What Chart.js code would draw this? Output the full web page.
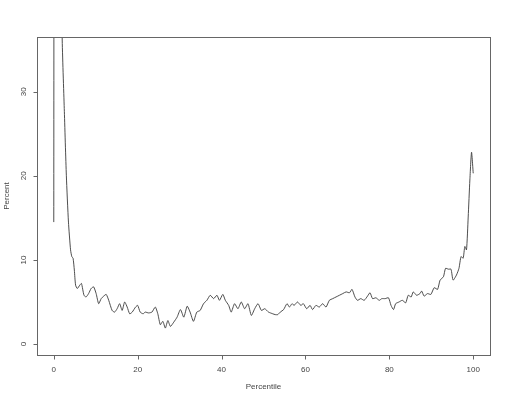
<!DOCTYPE html>
<html><head><meta charset="utf-8">
<script src="https://cdn.jsdelivr.net/npm/chart.js@4/dist/chart.umd.min.js"></script>
<style>html,body{margin:0;padding:0;background:#fff;}#c{display:block;}</style>
</head><body>
<canvas id="c" width="509" height="402"></canvas>
<script>
// Percentile positions (x) and Percent values (y)
const percentiles = [0,0.5,1.0,1.5,2.0,2.5,3.0,3.5,4.0,4.3,4.6,4.9,5.2,5.6,6.2,6.6,7.2,7.7,8.3,8.9,9.5,10.1,10.7,11.3,11.9,12.5,13.1,13.9,14.5,15.1,15.7,16.3,16.9,17.5,18.1,18.7,19.5,20.0,20.6,21.3,21.8,22.6,23.4,24.2,24.8,25.4,26.0,26.6,27.2,27.8,28.6,29.4,30.2,31.0,31.8,32.5,33.3,34.1,34.9,35.7,36.5,37.3,38.1,38.9,39.5,40.3,40.9,41.7,42.3,43.1,43.9,44.7,45.5,46.3,47.1,47.9,48.7,49.5,50.3,51.2,52.2,52.8,53.4,54.0,54.8,55.6,56.2,56.8,57.3,58.1,58.9,59.5,60.3,61.1,61.7,62.5,63.3,64.1,64.9,65.7,66.5,67.3,68.1,68.9,69.7,70.5,71.1,71.8,72.4,73.2,74.0,74.8,75.4,76.0,76.8,77.6,78.2,79.0,79.8,80.4,81.0,81.5,82.3,83.1,83.9,84.5,85.2,85.7,86.5,87.3,87.7,88.3,89.1,89.9,90.7,91.5,92.1,92.9,93.4,94.1,94.7,95.2,96.0,96.6,97.1,97.6,98.0,98.4,98.8,99.2,99.6,100];
const percentValues = [14.5,400,160,70,36.5,28,20,14.5,11.2,10.4,10.2,8.8,7.0,6.6,7.0,7.2,5.8,5.6,6.0,6.6,6.8,6.0,4.8,5.4,5.7,5.9,5.2,4.0,3.8,4.2,4.8,4.0,5.0,4.4,3.6,3.8,4.4,4.6,3.8,3.6,3.8,3.7,3.8,4.4,3.6,2.3,2.7,1.9,2.8,2.1,2.6,3.2,4.1,3.2,4.5,3.8,2.7,3.8,4.0,4.8,5.2,5.8,5.4,5.8,5.2,5.9,5.2,4.6,3.8,4.8,4.2,5.0,4.2,4.8,3.4,4.2,4.8,4.0,4.2,3.8,3.6,3.5,3.5,3.8,4.1,4.8,4.4,4.8,4.6,5.0,4.6,4.8,4.2,4.6,4.1,4.6,4.4,4.8,4.4,5.2,5.4,5.6,5.8,6.0,6.2,6.1,6.5,5.6,5.2,5.4,5.2,5.7,6.1,5.4,5.5,5.2,5.4,5.4,5.5,4.6,4.1,4.8,5.0,5.2,4.9,5.8,5.6,6.2,5.8,6.0,6.3,5.7,6.0,5.9,6.7,6.5,7.6,8.0,9.0,8.9,8.9,7.6,8.2,9.0,10.4,10.2,11.6,11.2,15.1,19.5,22.8,20.3];
const xTickValues = [0,20,40,60,80,100];
const yTickValues = [0,10,20,30];
const xTitle = 'Percentile';
const yTitle = 'Percent';

const points = percentiles.map((p,i)=>({x:p, y:percentValues[i]}));

const FONT = '8px "Liberation Sans", Arial, sans-serif';
const INK = '#444';

const frame = {
  id:'rframe',
  afterDraw(chart){
    const ctx = chart.ctx, a = chart.chartArea;
    const xs = chart.scales.x, ys = chart.scales.y;
    ctx.save();
    ctx.strokeStyle = '#666';
    ctx.lineWidth = 1;
    ctx.strokeRect(Math.round(a.left)+0.5, Math.round(a.top)+0.5, Math.round(a.right-a.left), Math.round(a.bottom-a.top));
    ctx.fillStyle = INK;
    ctx.font = FONT;
    ctx.textAlign='center'; ctx.textBaseline='middle';
    const by = Math.round(a.bottom)+0.5;
    ctx.beginPath();
    xTickValues.forEach(v=>{
      const px = Math.round(xs.getPixelForValue(v))+0.5;
      ctx.moveTo(px, by); ctx.lineTo(px, by+4);
    });
    ctx.stroke();
    xTickValues.forEach(v=>{
      ctx.fillText(String(v), xs.getPixelForValue(v), by+14);
    });
    const lx = Math.round(a.left)+0.5;
    ctx.beginPath();
    yTickValues.forEach(v=>{
      const py = Math.round(ys.getPixelForValue(v))+0.5;
      ctx.moveTo(lx, py); ctx.lineTo(lx-4, py);
    });
    ctx.stroke();
    yTickValues.forEach(v=>{
      ctx.save();
      ctx.translate(lx-14, ys.getPixelForValue(v));
      ctx.rotate(-Math.PI/2);
      ctx.fillText(String(v), 0, 0);
      ctx.restore();
    });
    ctx.fillText(xTitle, (a.left+a.right)/2, by+31);
    ctx.save();
    ctx.translate(7, (a.top+a.bottom)/2);
    ctx.rotate(-Math.PI/2);
    ctx.fillText(yTitle, 0, 0);
    ctx.restore();
    ctx.restore();
  }
};

new Chart(document.getElementById('c'), {
  type:'line',
  data:{datasets:[{data:points, borderColor:'#3a3a3a', borderWidth:0.9, pointRadius:0, tension:0.2, fill:false}]},
  options:{
    responsive:false, animation:false, devicePixelRatio:1,
    layout:{padding:{left:37, top:37, right:19, bottom:47}},
    plugins:{legend:{display:false}, tooltip:{enabled:false}},
    scales:{
      x:{type:'linear', min:-4, max:104, display:false},
      y:{type:'linear', min:-1.3, max:36.5, display:false}
    }
  },
  plugins:[frame]
});
</script>
</body></html>
